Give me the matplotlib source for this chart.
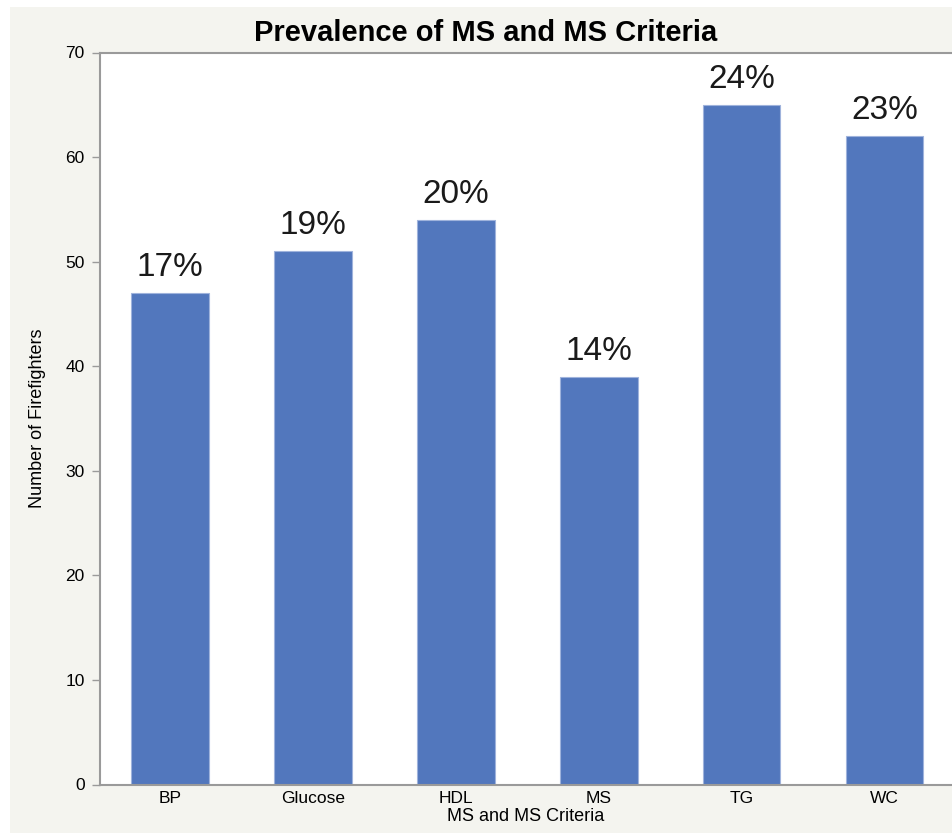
import matplotlib
matplotlib.use('Agg')
import matplotlib.pyplot as plt
from matplotlib.patches import Rectangle

plt.rcParams['font.family'] = ['Liberation Sans', 'DejaVu Sans']

# --- dane
kryteria = ['BP', 'Glucose', 'HDL', 'MS', 'TG', 'WC']
liczba = [47, 51, 54, 39, 65, 62]
procent = ['17%', '19%', '20%', '14%', '24%', '23%']

tlo = '#f4f4ef'
kolor_slupka = '#5277bd'
szary = '#9a9a9a'

fig = plt.figure(figsize=(9.52, 8.33), dpi=100)
fig.patch.set_facecolor('white')
# szare tlo okna (z biala ramka u gory i z lewej)
fig.add_artist(Rectangle((10 / 952, 0), 1, 1 - 7 / 833, transform=fig.transFigure,
                         facecolor=tlo, edgecolor='none', zorder=0))

ax = fig.add_axes([100 / 952, 48.5 / 833, 1 - 100 / 952, (784.5 - 52.5) / 833])
ax.set_facecolor('white')

x = range(len(kryteria))
ax.bar(x, liczba, width=0.54, color=kolor_slupka, edgecolor='#9fb3dc', linewidth=0.8, zorder=2)

for i, (v, p) in enumerate(zip(liczba, procent)):
    ax.annotate(p, (i, v), xytext=(0, 7), textcoords='offset points',
                ha='center', va='bottom', fontsize=24, color='#1a1a1a')

ax.set_xlim(-0.49, 5.47)
ax.set_ylim(0, 70)
ax.set_yticks(range(0, 71, 10))
ax.set_xticks(list(x))
ax.set_xticklabels(kryteria, fontsize=12.5)
ax.tick_params(axis='y', labelsize=12.5, length=6, width=1, color=szary, pad=5, direction='out')
ax.tick_params(axis='x', length=0, pad=5)

for s in ['left', 'bottom', 'top']:
    ax.spines[s].set_color(szary)
    ax.spines[s].set_linewidth(1.5)
ax.spines['right'].set_visible(False)

ax.set_ylabel('Number of Firefighters', fontsize=13, labelpad=14)
ax.set_xlabel('MS and MS Criteria', fontsize=13, labelpad=1)

fig.text(486 / 952, 1 - 33 / 833, 'Prevalence of MS and MS Criteria',
         ha='center', va='center', fontsize=21, fontweight='bold')

fig.savefig('out.png', dpi=100, facecolor=fig.get_facecolor())
